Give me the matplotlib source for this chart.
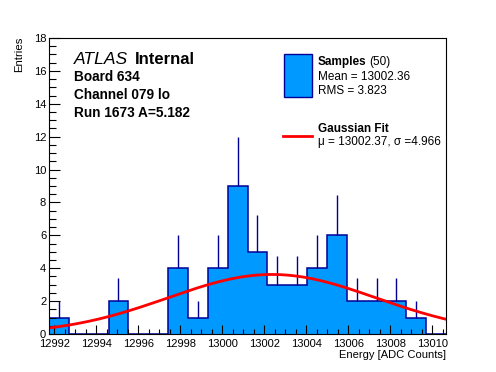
import numpy as np
import matplotlib.pyplot as plt
from matplotlib.ticker import MultipleLocator

plt.rcParams['font.family'] = ['Liberation Sans', 'DejaVu Sans']

# histogram range and bin contents (20 bins)
x_lo, x_hi = 12991.75, 13010.66
counts = np.array([1, 0, 0, 2, 0, 0, 4, 1, 4, 9, 5, 3, 3, 4, 6, 2, 2, 2, 1, 0])

# gaussian fit parameters
fit_const = 3.62
fit_mu = 13002.37
fit_sigma = 4.966

n_samples = 50
mean_val = 13002.36
rms_val = 3.823

fill_col = '#0099ff'
edge_col = '#000099'

W, H = 496, 372
fig = plt.figure(figsize=(W / 100, H / 100), dpi=100)
ax = fig.add_axes([49 / W, (H - 334) / H, (446 - 49) / W, (334 - 38) / H])

edges = np.linspace(x_lo, x_hi, len(counts) + 1)
centers = 0.5 * (edges[:-1] + edges[1:])

# error bars (upper half visible above the bars)
nz = counts > 0
ax.vlines(centers[nz], counts[nz], counts[nz] + np.sqrt(counts[nz]),
          color=edge_col, lw=1, zorder=2)
ax.stairs(counts, edges, fill=True, color=fill_col, zorder=1)
ax.stairs(counts, edges, baseline=0, color=edge_col, lw=1.1, zorder=2)

# gaussian fit curve
xf = np.linspace(x_lo, x_hi, 200)
yf = fit_const * np.exp(-0.5 * ((xf - fit_mu) / fit_sigma) ** 2)
ax.plot(xf, yf, color='#ff0000', lw=2, zorder=3)

ax.set_xlim(x_lo, x_hi)
ax.set_ylim(0, 18)
ax.xaxis.set_major_locator(MultipleLocator(2))
ax.xaxis.set_minor_locator(MultipleLocator(0.5))
ax.yaxis.set_major_locator(MultipleLocator(2))
ax.yaxis.set_minor_locator(MultipleLocator(0.5))
ax.ticklabel_format(useOffset=False)
ax.tick_params(axis='both', which='both', direction='in', top=False, right=False,
               labelsize=8, width=0.8, zorder=5)
ax.tick_params(axis='x', which='major', length=6.5, pad=3.8)
ax.tick_params(axis='x', which='minor', length=3.3)
ax.tick_params(axis='y', which='major', length=7.7, pad=2)
ax.tick_params(axis='y', which='minor', length=4.8)
for s in ax.spines.values():
    s.set_linewidth(0.8)
    s.set_zorder(6)
ax.set_axisbelow(False)

def px(x, y):
    return x / W, 1 - y / H

# axis titles
fig.text(*px(446, 358), 'Energy [ADC Counts]', ha='right', va='baseline', fontsize=8)
fig.text(*px(19, 37), 'Entries', ha='center', va='top', rotation=90, fontsize=8.2)

# ATLAS label block
fig.text(*px(74, 63.5), 'ATLAS', style='italic', fontsize=12.6, va='baseline')
fig.text(*px(135, 63.5), 'Internal', weight='bold', fontsize=12, va='baseline')
fig.text(*px(74, 81), 'Board 634', weight='bold', fontsize=9.8, va='baseline')
fig.text(*px(74, 99), 'Channel 079 lo', weight='bold', fontsize=9.8, va='baseline')
fig.text(*px(74, 117), 'Run 1673 A=5.182', weight='bold', fontsize=9.8, va='baseline')

# legend
box = plt.Rectangle(px(283.5, 96.5), 28 / W, 43 / H, transform=fig.transFigure,
                    facecolor=fill_col, edgecolor=edge_col, lw=1)
fig.add_artist(box)
fig.text(*px(317.5, 65), 'Samples', weight='bold', fontsize=8.5, va='baseline')
fig.text(*px(369, 65), '(%d)' % n_samples, fontsize=8.5, va='baseline')
fig.text(*px(317.5, 80), 'Mean = %.2f' % mean_val, fontsize=8.5, va='baseline')
fig.text(*px(317.5, 94), 'RMS = %.3f' % rms_val, fontsize=8.5, va='baseline')
fig.add_artist(plt.Line2D([283 / W, 311.5 / W], [1 - 136 / H, 1 - 136 / H],
                          transform=fig.transFigure, color='#ff0000', lw=2))
fig.text(*px(317.5, 132.5), 'Gaussian Fit', weight='bold', fontsize=8.5, va='baseline')
fig.text(*px(317.5, 145.5), 'μ = %.2f, σ =%.3f' % (fit_mu, fit_sigma),
         fontsize=8.5, va='baseline')

fig.savefig('out.png', dpi=100)
